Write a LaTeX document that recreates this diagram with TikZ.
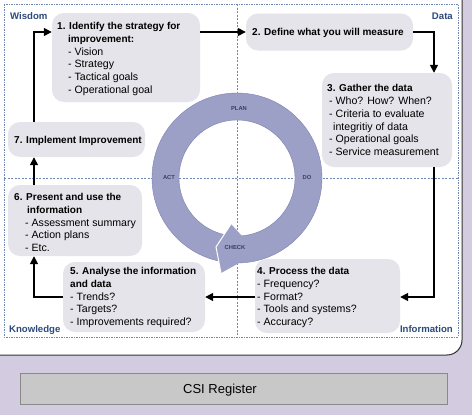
\documentclass[tikz,border=0pt]{standalone}
\usepackage{fontspec}
\setmainfont{Liberation Sans}
\usetikzlibrary{arrows.meta}
\definecolor{bgcol}{HTML}{D3CCE0}
\definecolor{boxcol}{HTML}{E4E4EA}
\definecolor{ringcol}{HTML}{9C9FC6}
\definecolor{ringdark}{HTML}{7E82B0}
\definecolor{lblcol}{HTML}{2D4A7C}
\definecolor{dashcol}{HTML}{6F87B2}
\definecolor{ringtxt}{HTML}{3A405E}
\definecolor{barcol}{HTML}{C8C8C8}
\definecolor{barline}{HTML}{8A8A8A}
\tikzset{
  stepbox/.style={draw=none, fill=boxcol, rounded corners=12pt, inner sep=0pt},
  bodytxt/.style={inner sep=0pt, align=left, font=\fontsize{10.6}{12.7}\selectfont},
  headtxt/.style={inner sep=0pt, font=\fontsize{10}{12}\selectfont\bfseries},
  quadlbl/.style={inner sep=0pt, text=lblcol, font=\fontsize{9.6}{11}\selectfont\bfseries},
  ringlbl/.style={inner sep=0pt, text=ringtxt, font=\fontsize{5.8}{7}\selectfont\bfseries},
  flowarr/.style={draw=black, line width=1.5pt, -{Triangle[length=8pt,width=8pt]}},
  frame/.style={draw=dashcol, line width=1pt, dash pattern=on 1.5pt off 1pt},
  axis/.style={draw=dashcol, line width=0.9pt, dash pattern=on 2pt off 1.5pt}
}
\begin{document}
\begin{tikzpicture}[x=1pt,y=-1pt]
\useasboundingbox (0,0) rectangle (472,415);
\fill[bgcol] (0,0) rectangle (472,415);
% white panel
\draw[fill=white, draw=black!80, line width=1pt, rounded corners=15pt] (-20,-20) rectangle (462,355);
% dashed frame and axes
\draw[frame] (4,4) rectangle (458,337);
\draw[axis] (237,4) -- (237,337);
\draw[axis] (4,178) -- (458,178);
% ring
\fill[ringcol, even odd rule] (237,178) circle[radius=85pt] (237,178) circle[radius=58pt];
\draw[ringdark, line width=0.4pt] (237,178) circle[radius=85pt] (237,178) circle[radius=58pt];
\fill[ringcol] (242,236) -- (231,224) -- (216,247) -- (221,273) -- (240,262.5) -- cycle;
\draw[white, line width=1pt, line join=miter] (231,224) -- (216,247) -- (221,273);
\node[ringlbl] (plan) at (239,109) {PLAN};
\node[ringlbl] (do) at (307,178) {DO};
\node[ringlbl] (act) at (169,178) {ACT};
\node[ringlbl] (check) at (235,248) {CHECK};
% quadrant labels
\node[quadlbl, anchor=base west] (wis) at (10,19.5) {Wisdom};
\node[quadlbl, anchor=base east] (dat) at (453,19.5) {Data};
\node[quadlbl, anchor=base west] (kno) at (9,332.5) {Knowledge};
\node[quadlbl, anchor=base east] (inf) at (453,332.5) {Information};
% boxes
\node[stepbox, minimum width=148pt, minimum height=89pt] (b1) at (126,57.5) {};
\node[stepbox, minimum width=167pt, minimum height=37pt] (b2) at (329.5,32) {};
\node[stepbox, minimum width=130pt, minimum height=94pt] (b3) at (387,120) {};
\node[stepbox, minimum width=145pt, minimum height=74pt] (b4) at (327.5,296) {};
\node[stepbox, minimum width=142pt, minimum height=70pt] (b5) at (134,297) {};
\node[stepbox, minimum width=134pt, minimum height=71pt] (b6) at (75,220.5) {};
\node[stepbox, minimum width=137pt, minimum height=35pt] (b7) at (76.5,139.5) {};
% box texts
\node[bodytxt, anchor=north west] (t1) at (57,22.2) {\textbf{\fontsize{10}{12}\selectfont 1. Identify the strategy for}\\
\hspace*{11pt}\textbf{\fontsize{10}{12}\selectfont improvement:}\\
\hspace*{11pt}- Vision\\
\hspace*{11pt}- Strategy\\
\hspace*{11pt}- Tactical goals\\
\hspace*{11pt}- Operational goal};
\node[headtxt, anchor=base west] (t2) at (252,35.5) {2. Define what you will measure};
\node[bodytxt, anchor=north west] (t3) at (327,84.5) {\textbf{\fontsize{10}{12}\selectfont 3. Gather the data}\\
\hspace*{2pt}- Who? How? When?\\
\hspace*{2pt}- Criteria to evaluate\\
\hspace*{6pt}integritiy of data\\
\hspace*{2pt}- Operational goals\\
\hspace*{2pt}- Service measurement};
\node[bodytxt, anchor=north west] (t4) at (257,267.3) {\textbf{\fontsize{10}{12}\selectfont 4. Process the data}\\
- Frequency?\\
- Format?\\
- Tools and systems?\\
- Accuracy?};
\node[bodytxt, anchor=north west] (t5) at (70,267.3) {\textbf{\fontsize{10}{12}\selectfont 5. Analyse the information}\\
\textbf{\fontsize{10}{12}\selectfont and data}\\
- Trends?\\
- Targets?\\
- Improvements required?};
\node[bodytxt, anchor=north west] (t6) at (14,193.3) {\textbf{\fontsize{10}{12}\selectfont 6. Present and use the}\\
\hspace*{13pt}\textbf{\fontsize{10}{12}\selectfont information}\\
\hspace*{11pt}- Assessment summary\\
\hspace*{11pt}- Action plans\\
\hspace*{11pt}- Etc.};
\node[headtxt, anchor=base west] (t7) at (14,143.5) {7. Implement Improvement};
% connectors
\coordinate (xr) at (434,0);
\coordinate (xl) at (34,0);
\coordinate (yt) at (0,32);
\draw[flowarr] (b1.east |- b2.west) -- (b2.west);
\draw[flowarr] (b2.east) -| (b3.north -| xr);
\draw[flowarr] (b3.south -| xr) |- (b4.east |- b5.east);
\draw[flowarr] (b4.west |- b5.east) -- (b5.east);
\draw[flowarr] (b5.west) -| (b6.south -| xl);
\draw[flowarr] (b6.north -| xl) -- (b7.south -| xl);
\draw[flowarr] (b7.north -| xl) |- (b1.west |- yt);
% CSI register bar
\node[draw=barline, fill=barcol, line width=0.8pt, minimum width=427pt, minimum height=31pt, inner sep=0pt] (bar) at (233.5,388.5) {};
\node[inner sep=0pt, font=\fontsize{13}{15}\selectfont] (csi) at (220,390) {CSI Register};
\end{tikzpicture}
\end{document}
